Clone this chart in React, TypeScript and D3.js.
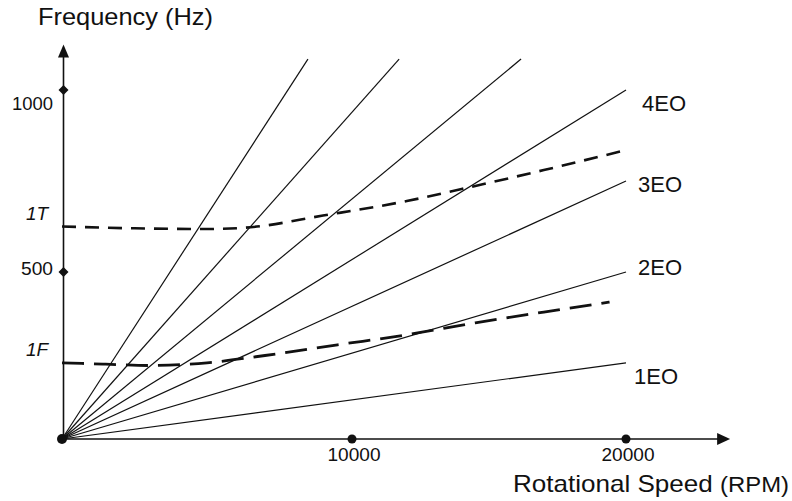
import React from "react";
import * as d3 from "d3";

// ---- data ----
const rpmTicks = [10000, 20000];
const rpmTickLabels = ["10000", "20000"];
const hzTicks = [500, 1000];
const hzTickLabels = ["500", "1000"];

const eoLabels = ["1EO", "2EO", "3EO", "4EO", "", "", ""];
const eoEndRpm = [20000, 20000, 20000, 20000, 16170, 11720, 8480];
const eoEndHz = [228, 500, 750, 1000, 1085, 1085, 1085];

const mode1TRpm = [0, 2500, 5000, 6500, 9000, 12000, 14000, 17000, 20000];
const mode1THz = [625, 620, 618, 623, 655, 695, 728, 780, 835];
const mode1FRpm = [0, 1500, 3000, 5000, 7000, 9500, 12000, 14500, 17000, 19400];
const mode1FHz = [228, 224, 220, 228, 250, 282, 312, 348, 380, 410];

const axisMaxRpm = 23800;
const axisMaxHz = 1125;

// ---- layout ----
const W = 792;
const H = 501;
const FONT = "'Liberation Sans', Arial, Helvetica, sans-serif";
const INK = "#111";
const eoLabelDx = [8, 12, 12, 16];
const eoLabelDy = [21, 3, 11, 21];

export default function App() {
  const x = d3.scaleLinear().domain([0, 10000, 20000]).range([62, 352, 626]);
  const y = d3.scaleLinear().domain([0, 500, 1000]).range([439, 272, 90]);

  const x0 = x(0);
  const y0 = y(0);
  const xEnd = x(axisMaxRpm);
  const yTop = y(axisMaxHz);

  const curve = d3
    .line<[number, number]>()
    .x((d) => x(d[0]))
    .y((d) => y(d[1]))
    .curve(d3.curveMonotoneX);

  const t1 = mode1TRpm.map((r, i) => [r, mode1THz[i]] as [number, number]);
  const f1 = mode1FRpm.map((r, i) => [r, mode1FHz[i]] as [number, number]);

  const diamond = (cx: number, cy: number, s: number) =>
    `M${cx},${cy - s}L${cx + s},${cy}L${cx},${cy + s}L${cx - s},${cy}Z`;

  return (
    <svg
      width={W}
      height={H}
      style={{ position: "absolute", left: 0, top: 0, background: "#fff" }}
      fontFamily={FONT}
    >
      <rect width={W} height={H} fill="#fff" />
      {/* EO lines */}
      {eoEndRpm.map((r, i) => (
        <line
          key={"eo" + i}
          x1={x0}
          y1={y0}
          x2={x(r)}
          y2={y(eoEndHz[i])}
          stroke={INK}
          strokeWidth={1.2}
        />
      ))}
      {eoLabels.map((lab, i) =>
        lab ? (
          <text
            key={"eol" + i}
            x={x(eoEndRpm[i]) + eoLabelDx[i]}
            y={y(eoEndHz[i]) + eoLabelDy[i]}
            fontSize={22}
            fill={INK}
          >
            {lab}
          </text>
        ) : null
      )}
      {/* modes */}
      <path
        d={curve(t1) || ""}
        fill="none"
        stroke={INK}
        strokeWidth={2.6}
        strokeDasharray="14 9"
      />
      <path
        d={curve(f1) || ""}
        fill="none"
        stroke={INK}
        strokeWidth={2.8}
        strokeDasharray="22 10"
      />
      {/* axes */}
      <line x1={x0} y1={y0} x2={xEnd - 10} y2={y0} stroke={INK} strokeWidth={1.6} />
      <path d={`M${xEnd},${y0}L${xEnd - 13},${y0 - 6}L${xEnd - 13},${y0 + 6}Z`} fill={INK} />
      <line x1={x0 + 1.5} y1={y0} x2={x0 + 1.5} y2={yTop + 10} stroke={INK} strokeWidth={1.6} />
      <path
        d={`M${x0 + 1.5},${yTop}L${x0 + 1.5 - 5.5},${yTop + 13}L${x0 + 1.5 + 5.5},${yTop + 13}Z`}
        fill={INK}
      />
      <circle cx={x0} cy={y0} r={5} fill={INK} />
      {rpmTicks.map((t, i) => (
        <g key={"xt" + i}>
          <circle cx={x(t)} cy={y0} r={4.5} fill={INK} />
          <text
            x={x(t) + 2}
            y={y0 + 22}
            fontSize={18}
            textAnchor="middle"
            fill={INK}
            textLength={53}
            lengthAdjust="spacingAndGlyphs"
          >
            {rpmTickLabels[i]}
          </text>
        </g>
      ))}
      {hzTicks.map((t, i) => (
        <g key={"yt" + i}>
          <path d={diamond(x0 + 1.5, y(t), 5)} fill={INK} />
          <text
            x={x0 - 9}
            y={y(t) + (i === 0 ? 3 : 20)}
            fontSize={18}
            textAnchor="end"
            fill={INK}
            textLength={i === 0 ? 32 : 41}
            lengthAdjust="spacingAndGlyphs"
          >
            {hzTickLabels[i]}
          </text>
        </g>
      ))}
      {/* mode labels */}
      <text x={26} y={y(mode1THz[0]) - 7} fontSize={19} fontStyle="italic" fill={INK}>
        1T
      </text>
      <text x={26} y={y(mode1FHz[0]) - 7} fontSize={19} fontStyle="italic" fill={INK}>
        1F
      </text>
      {/* axis titles */}
      <text x={38} y={25} fontSize={24} fill={INK} textLength={175} lengthAdjust="spacingAndGlyphs">
        Frequency (Hz)
      </text>
      <text x={513} y={492} fontSize={24} fill={INK} textLength={276} lengthAdjust="spacingAndGlyphs">
        Rotational Speed{" "}
        <tspan fontSize={22}>(RPM)</tspan>
      </text>
    </svg>
  );
}
